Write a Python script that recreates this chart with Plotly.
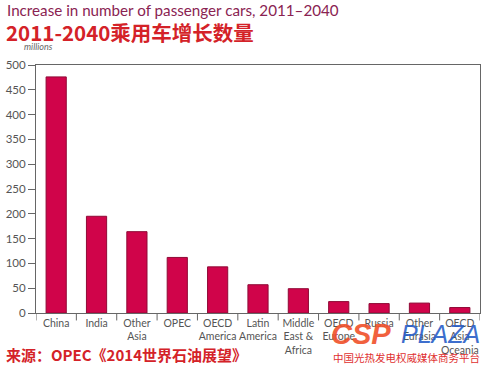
import plotly.graph_objects as go

categories = ["China", "India", "Other<br>Asia", "OPEC", "OECD<br>America", "Latin<br>America",
              "Middle<br>East &<br>Africa", "OECD<br>Europe", "Russia", "Other<br>Eurasia",
              "OECD<br>Asia<br>Oceania"]
values = [476, 195, 164, 112, 93, 57, 49, 23, 19, 20, 11]
y_ticks = [0, 50, 100, 150, 200, 250, 300, 350, 400, 450, 500]

fig = go.Figure()
fig.add_trace(go.Bar(
    x=list(range(len(categories))), y=values,
    marker=dict(color="#d0044a", line=dict(color="#8f0a36", width=1)),
    width=0.5,
))

fig.update_layout(
    width=488, height=371,
    margin=dict(l=36, r=8, t=65, b=58),
    paper_bgcolor="white", plot_bgcolor="white",
    showlegend=False,
    font=dict(family="Lato, Open Sans, sans-serif", color="#555555"),
    xaxis=dict(
        tickmode="array", tickvals=list(range(len(categories))), ticktext=categories,
        range=[-0.5, len(categories) - 0.5], automargin=False,
        showline=True, linecolor="#666666", linewidth=1, mirror=True,
        ticks="", tickfont=dict(size=10.5, color="#555555"),
        showgrid=False, zeroline=False,
    ),
    yaxis=dict(
        range=[0, 500], tickvals=y_ticks, automargin=False,
        showline=True, linecolor="#666666", linewidth=1, mirror=True,
        ticks="outside", ticklen=7, tickcolor="#666666",
        tickfont=dict(size=11.5, color="#555555"),
        showgrid=False, zeroline=False,
    ),
)

# tick marks at category boundaries
for i in range(len(categories) + 1):
    fig.add_shape(type="line", xref="x", yref="paper", x0=i - 0.5, x1=i - 0.5,
                  y0=0, y1=-0.03, line=dict(color="#666666", width=1))

fig.add_annotation(text="Increase in number of passenger cars, 2011–2040", xref="paper", yref="paper",
                   x=-0.07, y=1.222, xanchor="left", yanchor="middle", showarrow=False,
                   font=dict(size=15.2, color="#8a2352", family="Lato, sans-serif"))
fig.add_annotation(text="<b>2011-2040乘用车增长数量</b>", xref="paper", yref="paper",
                   x=-0.072, y=1.133, xanchor="left", yanchor="middle", showarrow=False,
                   font=dict(size=20.5, color="#d42228", family="Noto Sans CJK SC"))
fig.add_annotation(text="<i>millions</i>", xref="paper", yref="paper",
                   x=-0.032, y=1.073, xanchor="left", yanchor="middle", showarrow=False,
                   font=dict(size=9, color="#666666", family="Lato, sans-serif"))
fig.add_annotation(text="<b>来源：OPEC《2014世界石油展望》</b>", xref="paper", yref="paper",
                   x=-0.072, y=-0.169, xanchor="left", yanchor="middle", showarrow=False,
                   font=dict(size=15, color="#d42228", family="Noto Sans CJK SC"))
fig.add_annotation(text="<b><i>CSP</i></b>", xref="paper", yref="paper",
                   x=0.66, y=-0.085, xanchor="left", yanchor="middle", showarrow=False,
                   font=dict(size=29, color="#f0502a", family="Liberation Sans"), opacity=0.9)
fig.add_annotation(text="<i>PLAZA</i>", xref="paper", yref="paper",
                   x=1.005, y=-0.085, xanchor="right", yanchor="middle", showarrow=False,
                   font=dict(size=25, color="#2a5fc8", family="Liberation Sans"), opacity=0.9)
fig.add_annotation(text="中国光热发电权威媒体商务平台", xref="paper", yref="paper",
                   x=1.005, y=-0.18, xanchor="right", yanchor="middle", showarrow=False,
                   font=dict(size=10.5, color="#e03030", family="Noto Sans CJK SC"))

fig.write_html("out.html", config={"displayModeBar": False},
               post_script="document.body.style.margin='0';")
